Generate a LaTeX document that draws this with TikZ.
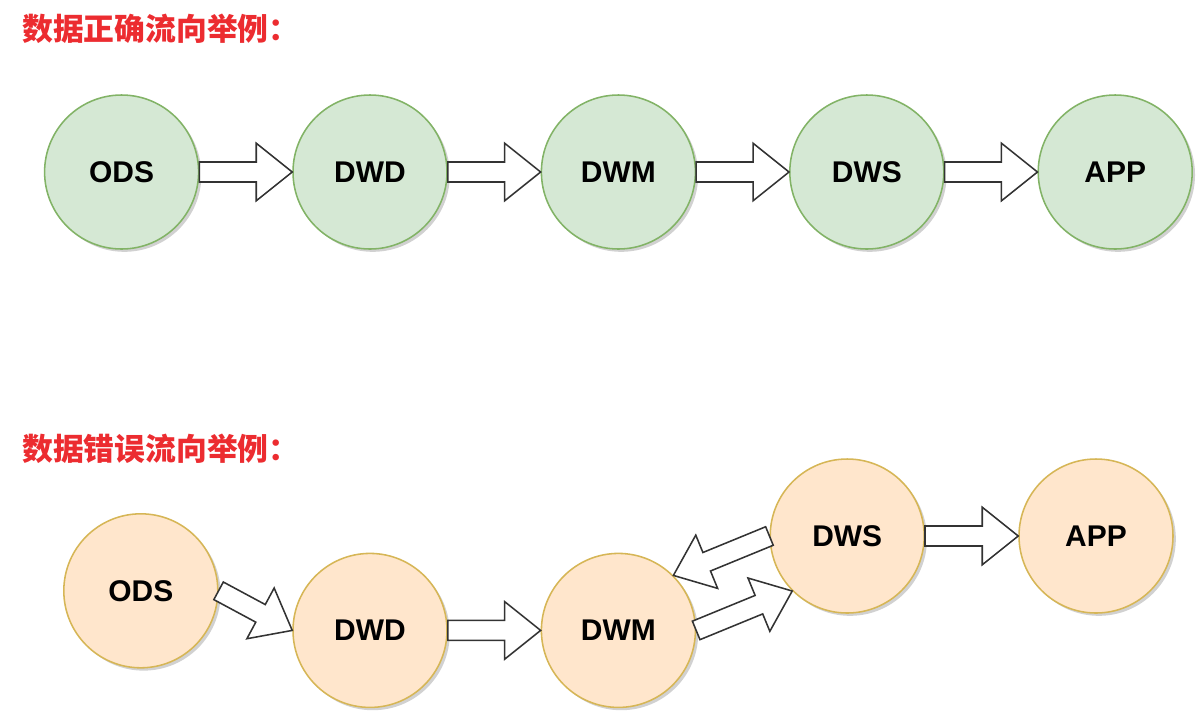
\documentclass[tikz,border=0pt]{standalone}
\usepackage{fontspec}
\setmainfont{Liberation Sans}
\newfontfamily\cjkfont{Noto Sans CJK SC}
\usetikzlibrary{calc}
\usetikzlibrary{shadows}

\definecolor{okfill}{HTML}{D5E8D4}
\definecolor{okline}{HTML}{82B366}
\definecolor{badfill}{HTML}{FFE6CC}
\definecolor{badline}{HTML}{D6B656}
\definecolor{arrowline}{HTML}{333333}
\definecolor{titlered}{RGB}{236,44,48}

\tikzset{
    stage/.style={circle, line width=1.1pt, minimum size=3.85cm, inner sep=0pt,
        font=\bfseries\fontsize{21.3}{25}\selectfont,
        drop shadow={shadow xshift=2pt, shadow yshift=-2pt, fill=black, opacity=0.18}},
    okstage/.style={stage, draw=okline, fill=okfill},
    badstage/.style={stage, draw=badline, fill=badfill},
    flow/.style={draw=arrowline, line width=1.1pt, fill=white, line join=miter},
    heading/.style={anchor=west, inner sep=0pt, text=titlered,
        font=\cjkfont\bfseries\fontsize{21.9}{26}\selectfont}
}

% hollow block arrow from #1 to #2
\newcommand{\blockarrow}[2]{%
    \coordinate (h) at ($(#2)!0.9cm!(#1)$);
    \draw[flow] ($(#1)!0.25cm!90:(#2)$) -- ($(h)!0.25cm!-90:(#1)$)
        -- ($(h)!0.72cm!-90:(#1)$) -- (#2) -- ($(h)!0.72cm!90:(#1)$)
        -- ($(h)!0.25cm!90:(#1)$) -- ($(#1)!0.25cm!-90:(#2)$) -- cycle;
}

\begin{document}
\begin{tikzpicture}
    \useasboundingbox (0,0) rectangle (30,-18);

    % correct flow
    \node[heading] (okhead) at (0.55,-0.73) {数据正确流向举例：};
    \foreach \x/\name in {3.04/ODS,9.25/DWD,15.46/DWM,21.67/DWS,27.88/APP} {
        \node[okstage] (ok\name) at (\x,-4.3) {\name};
    }
    \foreach \a/\b in {ODS/DWD,DWD/DWM,DWM/DWS,DWS/APP} {
        \blockarrow{ok\a.east}{ok\b.west}
    }

    % wrong flow
    \node[heading] (badhead) at (0.55,-11.23) {数据错误流向举例：};
    \node[badstage] (badODS) at (3.52,-14.77) {ODS};
    \node[badstage] (badDWD) at (9.25,-15.76) {DWD};
    \node[badstage] (badDWM) at (15.46,-15.76) {DWM};
    \node[badstage] (badDWS) at (21.18,-13.4) {DWS};
    \node[badstage] (badAPP) at (27.4,-13.4) {APP};

    \blockarrow{badODS.east}{badDWD.west}
    \blockarrow{badDWD.east}{badDWM.west}
    \blockarrow{badDWM.east}{badDWS.225}
    \blockarrow{badDWS.west}{badDWM.45}
    \blockarrow{badDWS.east}{badAPP.west}
\end{tikzpicture}
\end{document}
